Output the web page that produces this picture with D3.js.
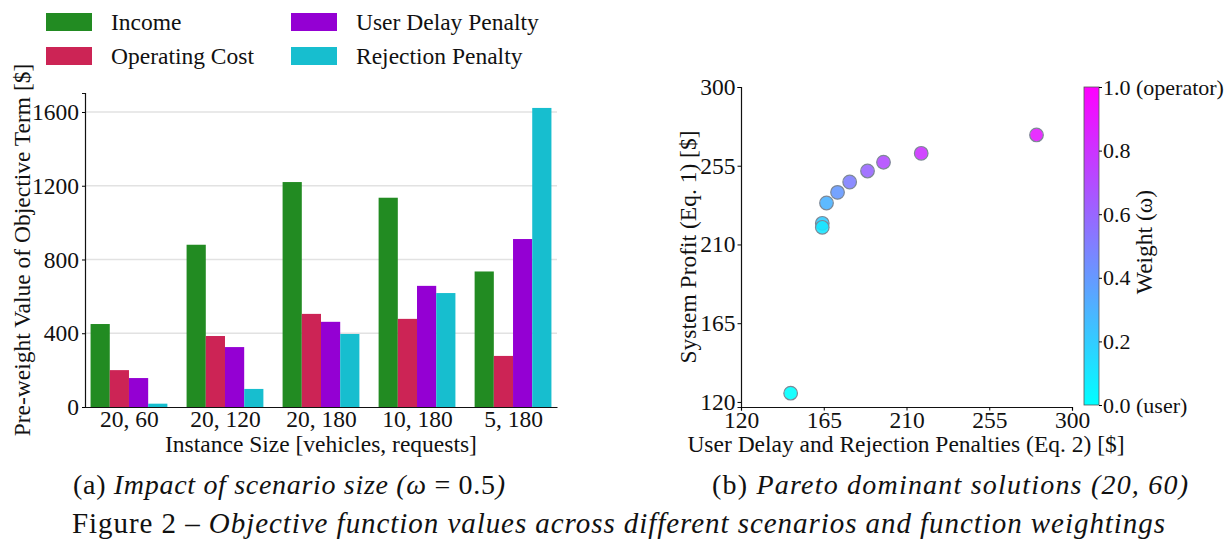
<!DOCTYPE html>
<html>
<head>
<meta charset="utf-8">
<script src="https://cdn.jsdelivr.net/npm/d3@7"></script>
<style>
  body { margin: 0; background: #fff; }
  svg { display: block; }
  text { font-family: "Liberation Serif", serif; fill: #111; }
</style>
</head>
<body>
<div class="fig"></div>
<script>
// bar chart (a)
const groups = ["20, 60", "20, 120", "20, 180", "10, 180", "5, 180"];
const income = [450, 880, 1220, 1135, 735];
const opCost = [200, 385, 505, 478, 277];
const delayPen = [157, 325, 462, 657, 911];
const rejectPen = [18, 98, 396, 618, 1622];
const seriesNames = ["Income", "Operating Cost", "User Delay Penalty", "Rejection Penalty"];
const seriesColors = ["#228b22", "#cc2455", "#9400d3", "#17becf"];
const barTicks = [0, 400, 800, 1200, 1600];

// scatter (b)
const penalties = [147, 164.2, 164.2, 166.5, 172.5, 179.1, 188.8, 197.5, 218.0, 280.7];
const profits = [125.0, 222.1, 219.8, 233.7, 239.8, 245.7, 252.0, 257.0, 262.1, 272.6];
const weights = [0.0, 0.2, 0.1, 0.3, 0.4, 0.5, 0.6, 0.7, 0.8, 0.9];
const scatterTicks = [120, 165, 210, 255, 300];
const cbarTicks = [0, 0.2, 0.4, 0.6, 0.8, 1.0];

const W = 1230, H = 540, FS = 23.5;
const SERIF = '"Liberation Serif", serif';
const svg = d3.select('.fig').append('svg')
    .attr('width', W)
    .attr('height', H)
    .attr('font-family', SERIF);
svg.append('rect').attr('width', W).attr('height', H).attr('fill', '#fff');

const cool = t => d3.rgb(255 * t, 255 * (1 - t), 255).formatHex();

// ---------- (a) bars ----------
const x = d3.scaleLinear().domain([-0.458, 4.458]).range([85, 557]);
const y = d3.scaleLinear().domain([0, 1703]).range([407, 93]);
const barW = x(0.2) - x(0);

svg.append('g')
    .selectAll('line')
    .data(barTicks.slice(1))
    .enter()
    .append('line')
    .attr('x1', 85).attr('x2', 557)
    .attr('y1', d => y(d)).attr('y2', d => y(d))
    .attr('stroke', '#e2e2e2')
    .attr('stroke-width', 1.5);

const table = [income, opCost, delayPen, rejectPen];
table.forEach((vals, j) => {
    svg.append('g').selectAll('rect')
        .data(vals)
        .enter()
        .append('rect')
        .attr('x', (d, i) => x(i + (j - 2) * 0.2))
        .attr('width', barW)
        .attr('y', d => y(d))
        .attr('height', d => y(0) - y(d))
        .attr('fill', seriesColors[j]);
});

svg.append('g')
    .attr('transform', 'translate(85,0)')
    .call(d3.axisLeft(y).tickValues(barTicks).tickSize(3).tickPadding(3).tickFormat(d3.format('d')));
svg.append('g')
    .attr('transform', 'translate(0,407)')
    .call(d3.axisBottom(x).tickValues(d3.range(groups.length)).tickSize(0).tickPadding(3).tickFormat(i => groups[i]));

svg.append('text')
    .attr('transform', 'translate(30,250) rotate(-90)')
    .attr('text-anchor', 'middle')
    .attr('font-size', FS)
    .text('Pre-weight Value of Objective Term [$]');
svg.append('text')
    .attr('x', 321).attr('y', 452)
    .attr('text-anchor', 'middle')
    .attr('font-size', FS)
    .text('Instance Size [vehicles, requests]');

// legend
const leg = svg.append('g');
seriesNames.forEach((name, j) => {
    const col = Math.floor(j / 2), row = j % 2;
    const lx = col ? 291 : 46, ly = row ? 47 : 13;
    leg.append('rect')
        .attr('x', lx).attr('y', ly)
        .attr('width', 46).attr('height', 18)
        .attr('fill', seriesColors[j]);
    leg.append('text')
        .attr('x', lx + 65).attr('y', ly + 17)
        .attr('font-size', FS)
        .text(name);
});

// ---------- (b) scatter ----------
const sx = d3.scaleLinear().domain([120, 300]).range([741, 1072]);
const sy = d3.scaleLinear().domain([117.1, 300]).range([407, 87]);

svg.append('g')
    .attr('transform', 'translate(741,0)')
    .call(d3.axisLeft(sy).tickValues(scatterTicks).tickSize(3.5).tickPadding(2));
svg.append('g')
    .attr('transform', 'translate(0,407)')
    .call(d3.axisBottom(sx).tickValues(scatterTicks).tickSize(3.5).tickPadding(1));

svg.append('g').selectAll('circle')
    .data(weights)
    .enter()
    .append('circle')
    .attr('cx', (d, i) => sx(penalties[i]))
    .attr('cy', (d, i) => sy(profits[i]))
    .attr('r', 6.8)
    .attr('fill', d => cool(d))
    .attr('fill-opacity', 0.9)
    .attr('stroke', '#7d8896')
    .attr('stroke-width', 1.2);

svg.append('text')
    .attr('transform', 'translate(696,247) rotate(-90)')
    .attr('text-anchor', 'middle')
    .attr('font-size', FS)
    .text('System Profit (Eq. 1) [$]');
svg.append('text')
    .attr('x', 906).attr('y', 452)
    .attr('text-anchor', 'middle')
    .attr('font-size', FS)
    .text('User Delay and Rejection Penalties (Eq. 2) [$]');

// colorbar
const cb = d3.scaleLinear().domain([0, 1]).range([405, 87]);
const grad = svg.append('defs').append('linearGradient')
    .attr('id', 'coolGrad')
    .attr('x1', 0).attr('y1', 1).attr('x2', 0).attr('y2', 0);
d3.range(0, 1.01, 0.1).forEach(t => {
    grad.append('stop').attr('offset', t).attr('stop-color', cool(t));
});
svg.append('rect')
    .attr('x', 1084).attr('y', cb(1))
    .attr('width', 15).attr('height', cb(0) - cb(1))
    .attr('fill', 'url(#coolGrad)')
    .attr('stroke', '#555')
    .attr('stroke-width', 0.8);
const cbAxis = svg.append('g')
    .attr('class', 'cbar')
    .attr('transform', 'translate(1099,0)')
    .call(d3.axisRight(cb).tickValues(cbarTicks).tickSize(3).tickPadding(1)
        .tickFormat(d => d === 0 ? '0.0 (user)' : d === 1 ? '1.0 (operator)' : d3.format('.1f')(d)))
    .call(g => g.select('.domain').remove());
svg.append('text')
    .attr('transform', 'translate(1152,242) rotate(-90)')
    .attr('text-anchor', 'middle')
    .attr('font-size', FS)
    .text('Weight (ω)');

svg.selectAll('.tick text').attr('font-size', FS).attr('font-family', SERIF).attr('fill', '#111');
cbAxis.selectAll('.tick text').attr('font-size', 22);
svg.selectAll('.domain').attr('stroke', '#111').attr('stroke-width', 1.2);

// captions
const capA = svg.append('text').attr('x', 73).attr('y', 494).attr('font-size', 28)
    .attr('textLength', 432).attr('lengthAdjust', 'spacing');
capA.append('tspan').text('(a) ');
capA.append('tspan').attr('font-style', 'italic').text('Impact of scenario size (ω');
capA.append('tspan').text(' = 0.5');
capA.append('tspan').attr('font-style', 'italic').text(')');

const capB = svg.append('text').attr('x', 712).attr('y', 494).attr('font-size', 28)
    .attr('textLength', 476).attr('lengthAdjust', 'spacing');
capB.append('tspan').text('(b) ');
capB.append('tspan').attr('font-style', 'italic').text('Pareto dominant solutions (20, 60)');

const capF = svg.append('text').attr('x', 72).attr('y', 533).attr('font-size', 29)
    .attr('textLength', 1093).attr('lengthAdjust', 'spacing');
capF.append('tspan').text('Figure 2 – ');
capF.append('tspan').attr('font-style', 'italic').text('Objective function values across different scenarios and function weightings');
</script>
</body>
</html>
